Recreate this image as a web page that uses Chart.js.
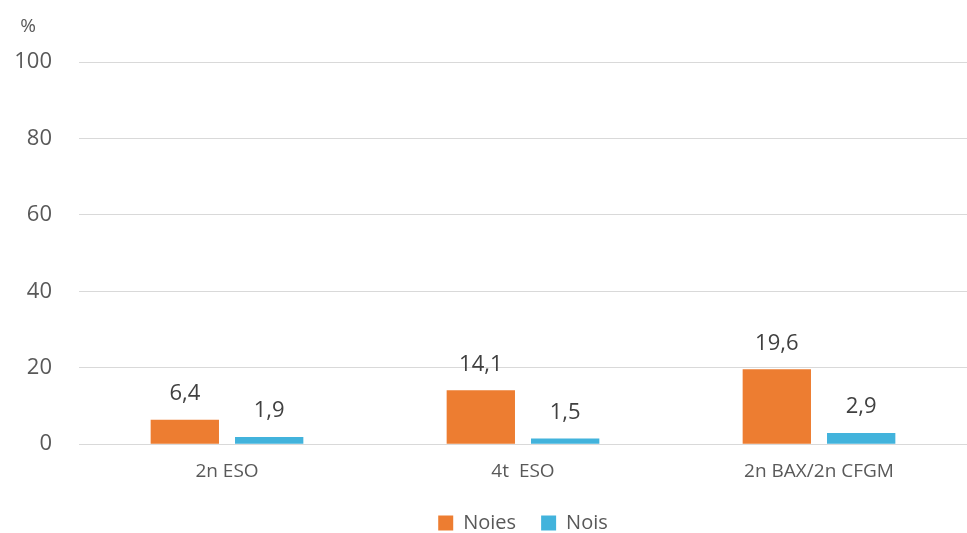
<!DOCTYPE html>
<html lang="ca">
<head>
    <meta charset="UTF-8">
    <script src="https://cdn.jsdelivr.net/npm/chart.js"></script>
    <title>Noies i nois</title>
    <style>
        body { margin: 0; background: #fff; }
        #wrap { width: 967px; height: 533px; }
    </style>
</head>
<body>
    <div id="wrap"><canvas id="myChart"></canvas></div>

    <script>
        const categories = ["2n ESO", "4t  ESO", "2n BAX/2n CFGM"];
        const noies = [6.4, 14.1, 19.6];
        const nois = [1.9, 1.5, 2.9];
        const yTicks = [0, 20, 40, 60, 80, 100];

        const fontName = "'Open Sans', 'Liberation Sans', sans-serif";

        // etiquetes de valor sobre les barres
        const valueLabels = {
            id: 'valueLabels',
            afterDatasetsDraw(chart) {
                const ctx = chart.ctx;
                ctx.save();
                ctx.font = "22px " + fontName;
                ctx.fillStyle = "#404040";
                ctx.textAlign = "center";
                ctx.textBaseline = "middle";
                chart.data.datasets.forEach(function(ds, i) {
                    chart.getDatasetMeta(i).data.forEach(function(bar, j) {
                        const txt = ds.data[j].toFixed(1).replace(".", ",");
                        ctx.fillText(txt, bar.x, bar.y - 26);
                    });
                });
                ctx.restore();
            }
        };

        // el "%" damunt l'eix + llegenda centrada sobre l'area del grafic
        const unitLabel = {
            id: 'unitLabel',
            afterLayout(chart) {
                const lg = chart.legend;
                lg.left = chart.chartArea.left;
                lg.right = Math.min(chart.chartArea.right, 967 + 20);
                lg.width = lg.right - lg.left;
                lg.top = 488;
                lg.bottom = 533;
            },
            afterDraw(chart) {
                const ctx = chart.ctx;
                ctx.save();
                ctx.font = "19px " + fontName;
                ctx.fillStyle = "#595959";
                ctx.textAlign = "center";
                ctx.textBaseline = "middle";
                ctx.fillText("%", 28, 27);
                ctx.restore();
            }
        };

        new Chart("myChart", {
            type: 'bar',
            data: {
                labels: categories,
                datasets: [{
                    label: 'Noies',
                    data: noies,
                    backgroundColor: '#ED7D31'
                }, {
                    label: 'Nois',
                    data: nois,
                    backgroundColor: '#42B3DC'
                }]
            },
            options: {
                responsive: true,
                maintainAspectRatio: false,
                animation: false,
                categoryPercentage: 0.57,
                barPercentage: 0.81,
                layout: { padding: { top: 62, left: 10, right: -10, bottom: 0 } },
                scales: {
                    y: {
                        min: 0,
                        max: 100,
                        afterBuildTicks: function(scale) {
                            scale.ticks = yTicks.map(function(v) { return { value: v }; });
                        },
                        afterFit: function(scale) { scale.width = 69; },
                        grid: { color: '#D9D9D9', drawTicks: false },
                        border: { display: false },
                        ticks: {
                            padding: 27,
                            color: '#595959',
                            font: { size: 22, family: fontName }
                        }
                    },
                    x: {
                        grid: { display: false },
                        border: { color: '#D9D9D9' },
                        ticks: {
                            padding: 8,
                            color: '#595959',
                            font: { size: 19, family: fontName }
                        }
                    }
                },
                plugins: {
                    legend: {
                        position: 'bottom',
                        maxHeight: 42,
                        labels: {
                            boxWidth: 15,
                            boxHeight: 15,
                            padding: 25,
                            color: '#595959',
                            font: { size: 20, family: fontName }
                        }
                    },
                    tooltip: { enabled: false }
                }
            },
            plugins: [valueLabels, unitLabel]
        });
    </script>
</body>
</html>
